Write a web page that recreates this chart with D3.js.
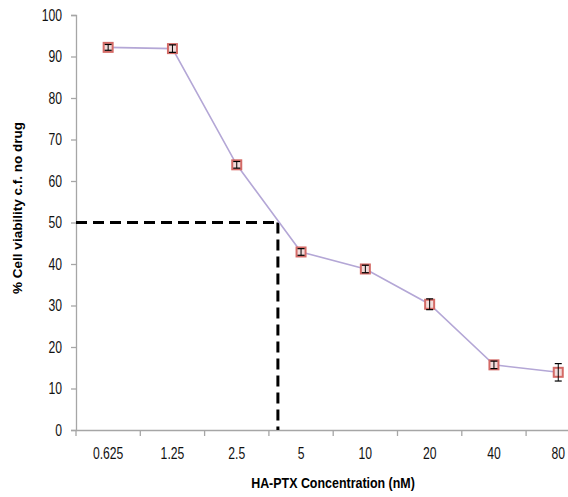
<!DOCTYPE html>
<html><head><meta charset="utf-8">
<script src="https://cdn.jsdelivr.net/npm/d3@7"></script>
<style>
html,body{margin:0;padding:0;background:#fff;}
svg{display:block;}
.tick text{font-family:"Liberation Sans",Arial,sans-serif;font-size:16px;fill:#111;}
</style></head>
<body><svg id="c" width="568" height="497"></svg>
<script>
const categories = ["0.625","1.25","2.5","5","10","20","40","80"];
const viability = [92.2, 91.9, 63.9, 42.9, 38.8, 30.3, 15.7, 13.9];
const errors = [0.7, 0.9, 0.8, 0.8, 0.9, 1.3, 0.9, 2.1];
const yTicks = [0,10,20,30,40,50,60,70,80,90,100];
const ic50Value = 50;
const ic50Index = 3.14; // position in category units along x

(function(){
const svg = d3.select("#c");
const left = 76, topY = 15, bottom = 430, band = 64.3;
const sx = 0.76;
const x = d3.scaleBand().domain(categories).range([left, left + band*categories.length]).padding(0);
const xi = d3.scaleLinear().domain([0, categories.length]).range([left, left + band*categories.length]);
const y = d3.scaleLinear().domain([0,100]).range([bottom, topY]);

// y axis
const ya = svg.append("g").attr("transform",`translate(${left},0)`)
  .call(d3.axisLeft(y).tickValues(yTicks).tickSize(5).tickPadding(0).tickFormat(d3.format("d")));
ya.select(".domain").attr("stroke","#a6a6a6").attr("stroke-width",1.3);
ya.selectAll(".tick line").attr("stroke","#a6a6a6").attr("stroke-width",1.3);
ya.selectAll(".tick text").attr("x",0).attr("transform",`translate(-14,0) scale(${sx},1)`);

// x axis
const xa = svg.append("g").attr("transform",`translate(0,${bottom})`)
  .call(d3.axisBottom(x).tickSize(0).tickPadding(18));
xa.select(".domain").attr("stroke","#a6a6a6").attr("stroke-width",1.3);
xa.selectAll(".tick line").remove();
xa.selectAll(".tick text").attr("transform",`scale(${sx},1)`);
xa.selectAll(".tickmark").data(d3.range(categories.length+1)).enter().append("line")
  .attr("x1",d=>xi(d)).attr("x2",d=>xi(d)).attr("y1",0).attr("y2",6)
  .attr("stroke","#a6a6a6").attr("stroke-width",1.3);

// dashed IC50 lines
svg.append("line").attr("x1",left).attr("x2",xi(ic50Index)).attr("y1",y(ic50Value)).attr("y2",y(ic50Value))
  .attr("stroke","#000").attr("stroke-width",3).attr("stroke-dasharray","11,6");
svg.append("line").attr("x1",xi(ic50Index)).attr("x2",xi(ic50Index)).attr("y1",y(ic50Value)).attr("y2",bottom)
  .attr("stroke","#000").attr("stroke-width",3).attr("stroke-dasharray","11,6");

// line
const pts = categories.map((c,i)=>({c, v: viability[i], e: errors[i]}));
svg.append("path").datum(pts)
  .attr("d", d3.line().x(d=>x(d.c)+x.bandwidth()/2).y(d=>y(d.v)))
  .attr("fill","none").attr("stroke","#b4a7d6").attr("stroke-width",1.6);

// markers
const m = svg.selectAll(".pt").data(pts).enter().append("g")
  .attr("transform",d=>`translate(${x(d.c)+x.bandwidth()/2},${y(d.v)})`);
m.append("rect").attr("x",-4.5).attr("y",-4.5).attr("width",9).attr("height",9)
  .attr("fill","#f2dcdb").attr("stroke","#d46a66").attr("stroke-width",2);
m.append("line").attr("x1",0).attr("x2",0).attr("y1",d=>y(d.v+d.e)-y(d.v)).attr("y2",d=>y(d.v-d.e)-y(d.v))
  .attr("stroke","#000").attr("stroke-width",1);
m.append("line").attr("x1",-3.5).attr("x2",3.5).attr("y1",d=>y(d.v+d.e)-y(d.v)).attr("y2",d=>y(d.v+d.e)-y(d.v))
  .attr("stroke","#000").attr("stroke-width",1.2);
m.append("line").attr("x1",-3.5).attr("x2",3.5).attr("y1",d=>y(d.v-d.e)-y(d.v)).attr("y2",d=>y(d.v-d.e)-y(d.v))
  .attr("stroke","#000").attr("stroke-width",1.2);

// axis titles
svg.append("text").attr("transform","translate(22,208) rotate(-90)").attr("text-anchor","middle")
  .style("font-family","Liberation Sans, Arial, sans-serif").style("font-weight","bold").style("font-size","13.5px")
  .text("% Cell viability c.f. no drug");
svg.append("text").attr("transform","translate(333,488) scale(0.83,1)").attr("text-anchor","middle")
  .style("font-family","Liberation Sans, Arial, sans-serif").style("font-weight","bold").style("font-size","15px")
  .text("HA-PTX Concentration (nM)");
})();
</script></body></html>
